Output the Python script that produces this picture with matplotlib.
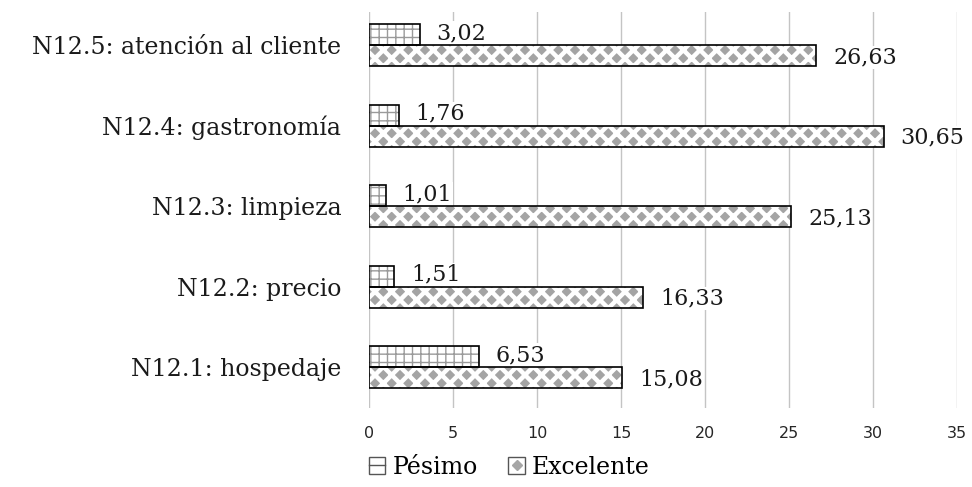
import numpy as np
import matplotlib.pyplot as plt
from matplotlib.patches import Patch
from matplotlib.lines import Line2D
from matplotlib.legend_handler import HandlerTuple

# datos (de abajo hacia arriba)
categorias = ["N12.1: hospedaje", "N12.2: precio", "N12.3: limpieza",
              "N12.4: gastronomía", "N12.5: atención al cliente"]
pesimo     = [6.53, 1.51, 1.01, 1.76, 3.02]
excelente  = [15.08, 16.33, 25.13, 30.65, 26.63]
xticks     = [0, 5, 10, 15, 20, 25, 30, 35]

serif = "DejaVu Serif"
sans  = "DejaVu Sans"

fig = plt.figure(figsize=(9.72, 4.87), dpi=100)
ax  = fig.add_axes([0.3796, 0.162, 0.6050, 0.813])

y = np.arange(len(categorias))
h = 0.26

# Pésimo: cuadricula
plt.rcParams['hatch.linewidth'] = 1.0
plt.rcParams['hatch.color'] = '#9a9a9a'
ax.barh(y + h/2, pesimo, height=h, color='white', hatch='++',
        edgecolor='#9a9a9a', linewidth=0, zorder=2)
ax.barh(y + h/2, pesimo, height=h, fill=False, edgecolor='black',
        linewidth=1.2, zorder=3)

# Excelente: rombos grises (fondo gris, red blanca)
plt.rcParams['hatch.linewidth'] = 3.2
plt.rcParams['hatch.color'] = 'white'
ax.barh(y - h/2, excelente, height=h, color='#a4a4a4', hatch='xx',
        edgecolor='white', linewidth=0, zorder=2)
ax.barh(y - h/2, excelente, height=h, fill=False, edgecolor='black',
        linewidth=1.2, zorder=3)

# etiquetas de valores
for i in range(len(categorias)):
    ax.text(pesimo[i] + 1.0, y[i] + h/2 + 0.02, f"{pesimo[i]:.2f}".replace('.', ','),
            va='center', ha='left', fontsize=16, family=serif, color='#1a1a1a',
            bbox=dict(facecolor='white', edgecolor='none', pad=0.5), zorder=1.5)
    ax.text(excelente[i] + 1.0, y[i] - h/2 - 0.02, f"{excelente[i]:.2f}".replace('.', ','),
            va='center', ha='left', fontsize=16, family=serif, color='#1a1a1a',
            bbox=dict(facecolor='white', edgecolor='none', pad=0.5), zorder=1.5)

ax.set_xlim(0, 35)
ax.set_ylim(-0.51, 4.41)
ax.set_xticks(xticks)
ax.set_xticklabels([str(t) for t in xticks], family=sans, fontsize=11.5, color='#262626')
ax.set_yticks(y)
ax.set_yticklabels(categorias, family=serif, fontsize=17, color='#1a1a1a')
ax.tick_params(axis='x', length=0, pad=13)
ax.tick_params(axis='y', length=0, pad=20)
ax.grid(axis='x', color='#c4c4c4', linewidth=1.0, zorder=0)
ax.set_axisbelow(True)
for s in ax.spines.values():
    s.set_visible(False)

# leyenda
caja1 = Patch(facecolor='white', edgecolor='#555555', linewidth=1.0)
raya  = Line2D([], [], color='#555555', linewidth=1.0)
caja2 = Patch(facecolor='white', edgecolor='#555555', linewidth=1.0)
rombo = Line2D([], [], linestyle='none', marker='D', markersize=5,
               markerfacecolor='#a6a6a6', markeredgecolor='#a6a6a6')
fig.legend(handles=[(caja1, raya), (caja2, rombo)], labels=['Pésimo', 'Excelente'],
           handler_map={tuple: HandlerTuple(ndivide=1, pad=0)},
           loc='center', bbox_to_anchor=(0.524, 0.041), ncol=2,
           frameon=False, prop={'family': serif, 'size': 17},
           handlelength=0.7, handleheight=0.7, handletextpad=0.3, columnspacing=1.3)

fig.savefig("out.png", dpi=100)
